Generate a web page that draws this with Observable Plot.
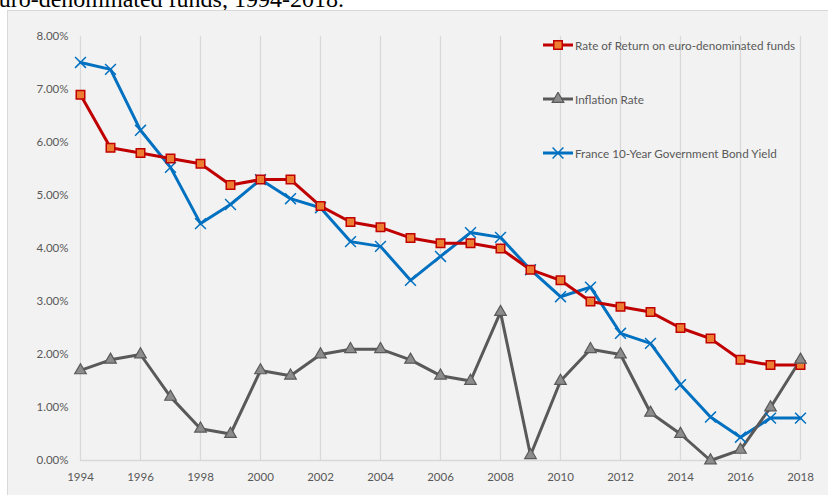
<!DOCTYPE html>
<html>
<head>
<meta charset="utf-8">
<script src="https://cdn.jsdelivr.net/npm/d3@7"></script>
<script src="https://cdn.jsdelivr.net/npm/@observablehq/plot@0.6"></script>
<style>
  html, body { margin: 0; padding: 0; background: #ffffff; overflow: hidden; }
  #page { position: relative; width: 828px; height: 495px; overflow: hidden; }
  #caption { position: absolute; left: -12px; top: -13px; font-family: "Liberation Serif", "DejaVu Serif", serif; font-size: 24px; line-height: 24px; color: #000; white-space: nowrap; }
  #box { position: absolute; left: 7px; top: 10px; width: 840px; height: 500px; background: #f2f2f2; border: 1px solid #d9d9d9; box-sizing: border-box; }
  #chart { position: absolute; left: 0; top: 0; }
  #legend { position: absolute; left: 543px; top: 0; font-family: Lato, "Open Sans", sans-serif; font-size: 11.7px; color: #595959; }
  .item { position: absolute; left: 0; display: flex; align-items: center; white-space: nowrap; height: 14px; }
  .item svg { margin-right: 2px; }
</style>
</head>
<body>
<div id="page">
  <div id="caption">euro-denominated funds, 1994-2018.</div>
  <div id="box"></div>
  <div id="chart"></div>
  <div id="legend"></div>
</div>
<script>
const years = [1994,1995,1996,1997,1998,1999,2000,2001,2002,2003,2004,2005,2006,2007,2008,2009,2010,2011,2012,2013,2014,2015,2016,2017,2018];
const rateOfReturn = [6.9,5.9,5.8,5.7,5.6,5.2,5.3,5.3,4.8,4.5,4.4,4.2,4.1,4.1,4.0,3.6,3.4,3.0,2.9,2.8,2.5,2.3,1.9,1.8,1.8];
const inflation = [1.7,1.9,2.0,1.2,0.6,0.5,1.7,1.6,2.0,2.1,2.1,1.9,1.6,1.5,2.8,0.1,1.5,2.1,2.0,0.9,0.5,0.0,0.2,1.0,1.9];
const bondYield = [7.51,7.38,6.23,5.53,4.47,4.83,5.30,4.94,4.77,4.13,4.04,3.40,3.85,4.30,4.21,3.60,3.09,3.27,2.40,2.21,1.43,0.82,0.44,0.80,0.80];
const seriesNames = ["Rate of Return on euro-denominated funds", "Inflation Rate", "France 10-Year Government Bond Yield"];
const xTicks = [1994,1996,1998,2000,2002,2004,2006,2008,2010,2012,2014,2016,2018];
const yTicks = [0,0.01,0.02,0.03,0.04,0.05,0.06,0.07,0.08];

const styles = [
  {name: seriesNames[0], values: rateOfReturn, stroke: "#c00000", fill: "#ed7d31", symbol: "square", r: 4.8, sw: 1.5},
  {name: seriesNames[1], values: inflation, stroke: "#595959", fill: "#8c8c8c", symbol: "triangle", r: 4.3, sw: 1.2},
  {name: seriesNames[2], values: bondYield, stroke: "#0070c0", fill: "none", symbol: "times", r: 5, sw: 1.5}
];

const marks = [
  Plot.ruleX(xTicks, {stroke: "#d9d9d9", strokeWidth: 1.3}),
  Plot.ruleY([0], {stroke: "#d9d9d9", strokeWidth: 1.3}),
  Plot.axisY({ticks: yTicks, tickFormat: d3.format(".2%"), tickSize: 0, tickPadding: 12, fontSize: 11.5, fill: "#595959", label: null}),
  Plot.axisX({ticks: xTicks, tickFormat: d => String(d), tickSize: 0, tickPadding: 12, fontSize: 11.5, fill: "#595959", label: null, style: "letter-spacing:1.6px"})
];
const order = [2, 0, 1];
for (const i of order) {
  const s = styles[i];
  const data = years.map((y, k) => ({year: y, v: s.values[k] / 100}));
  marks.push(Plot.line(data, {x: "year", y: "v", stroke: s.stroke, strokeWidth: 3, strokeLinejoin: "round"}));
}
for (const i of order) {
  const s = styles[i];
  const data = years.map((y, k) => ({year: y, v: s.values[k] / 100}));
  if (s.symbol === "times") {
    marks.push(Plot.dot(data, {x: "year", y: "v", symbol: "times", r: s.r, stroke: s.stroke, strokeWidth: s.sw}));
  } else {
    marks.push(Plot.dot(data, {x: "year", y: "v", symbol: s.symbol, r: s.r, fill: s.fill, stroke: s.stroke, strokeWidth: s.sw, fillOpacity: 1}));
  }
}

const chart = Plot.plot({
  width: 828,
  height: 495,
  marginLeft: 80,
  marginRight: 28,
  marginTop: 36,
  marginBottom: 35,
  style: {background: "transparent", fontFamily: "Lato, 'Open Sans', sans-serif", color: "#595959"},
  x: {domain: [1994, 2018], label: null},
  y: {domain: [0, 0.08], label: null},
  marks
});
document.getElementById("chart").appendChild(chart);

const legend = document.getElementById("legend");
const legendTops = [38, 92, 146];
styles.forEach((s, i) => {
  const item = document.createElement("div");
  item.className = "item";
  item.style.top = legendTops[i] + "px";
  const sym = d3.symbol(s.symbol === "square" ? d3.symbolSquare : s.symbol === "triangle" ? d3.symbolTriangle : d3.symbolTimes, Math.PI * s.r * s.r)();
  item.innerHTML = `<svg width="30" height="14" viewBox="0 0 30 14">
    <line x1="0" x2="30" y1="7" y2="7" stroke="${s.stroke}" stroke-width="3"/>
    <path d="${sym}" transform="translate(15,7)" fill="${s.fill}" stroke="${s.stroke}" stroke-width="${s.sw}"/>
  </svg><span>${s.name}</span>`;
  legend.appendChild(item);
});
</script>
</body>
</html>
